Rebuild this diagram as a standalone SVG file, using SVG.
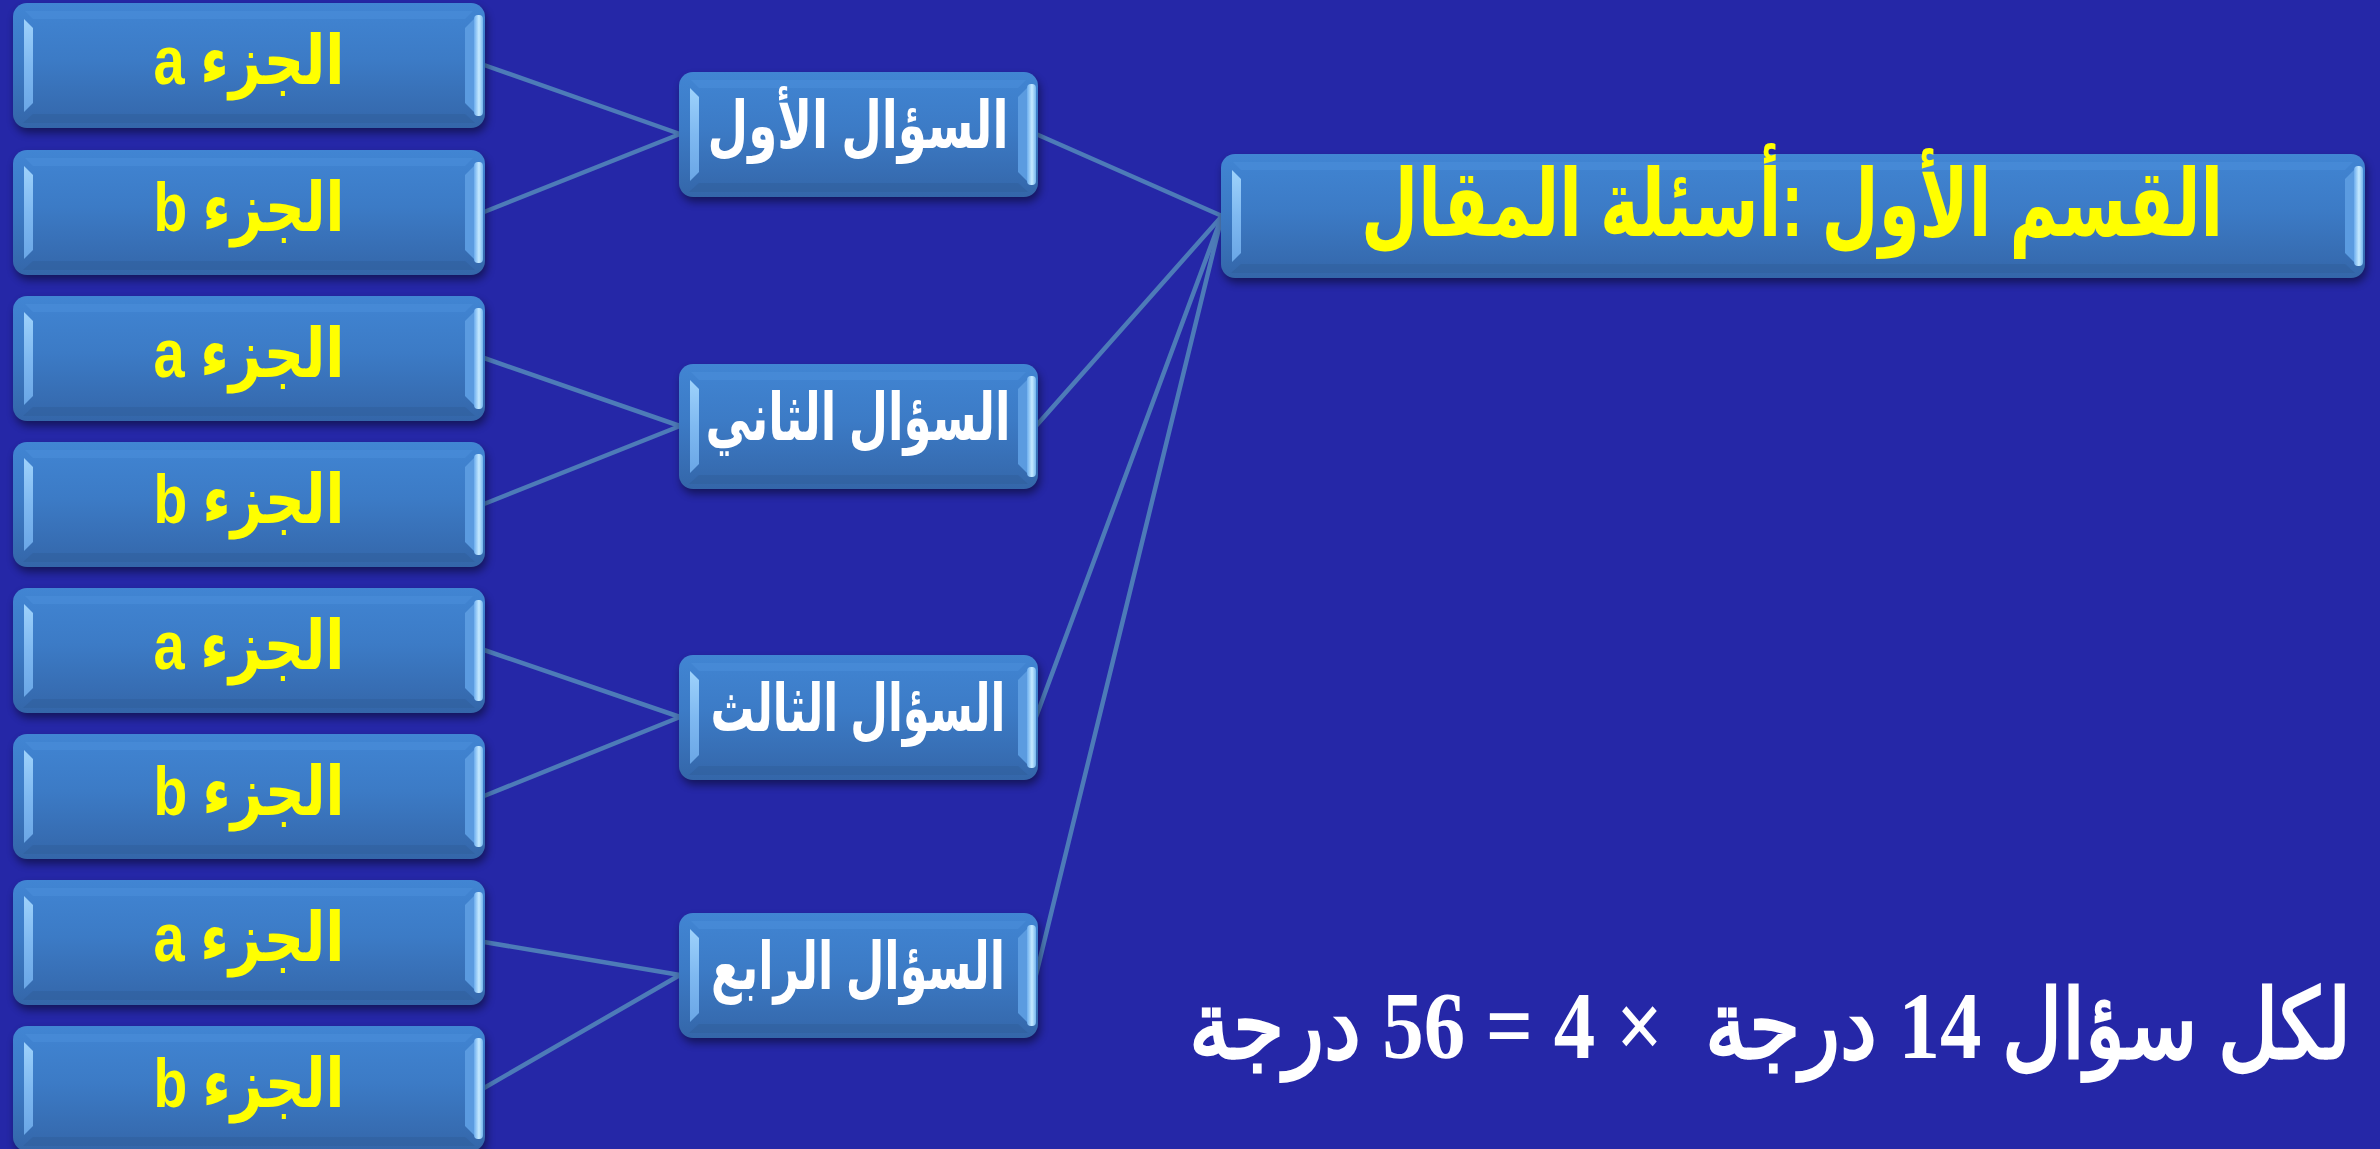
<svg xmlns="http://www.w3.org/2000/svg" xmlns:xlink="http://www.w3.org/1999/xlink" width="2380" height="1149" viewBox="0 0 2380 1149">
<style>
.conn{stroke:#4d7bb8;stroke-width:4.5;fill:none;stroke-linecap:round}
.ty{font-family:"Liberation Sans","DejaVu Sans",sans-serif;font-weight:bold;fill:#ffff00;text-anchor:middle}
.tw{font-family:"Liberation Sans","DejaVu Sans",sans-serif;font-weight:bold;fill:#ffffff;text-anchor:middle}
.tb{font-family:"Liberation Serif","DejaVu Serif",serif;font-weight:bold;fill:#ffffff;text-anchor:middle;white-space:pre}
.face{fill:url(#gFace)}
.shadow{fill:#000;opacity:.45;filter:url(#blur)}
.lb{fill:url(#gLeft)}
.rb{fill:url(#gRight)}
.rbi{fill:#5b9be0}
.bot{fill:#2f5e9c;opacity:.55}
.top{fill:#4b8fdc;opacity:.5}
</style>
<defs>
<filter id="blur" x="-5%" y="-20%" width="110%" height="140%"><feGaussianBlur stdDeviation="4"/></filter>
<linearGradient id="gFace" x1="0" y1="0" x2="0" y2="1">
<stop offset="0" stop-color="#4185d3"/>
<stop offset="0.45" stop-color="#3c7bc6"/>
<stop offset="1" stop-color="#3466a9"/>
</linearGradient>
<linearGradient id="gLeft" x1="0" y1="0" x2="0" y2="1">
<stop offset="0" stop-color="#9ed2fb"/>
<stop offset="0.5" stop-color="#7fb9f1"/>
<stop offset="1" stop-color="#6aa6e6"/>
</linearGradient>
<linearGradient id="gRight" x1="0" y1="0" x2="1" y2="0">
<stop offset="0" stop-color="#6cadee"/>
<stop offset="0.55" stop-color="#c6eaff"/>
<stop offset="1" stop-color="#76b6ee"/>
</linearGradient>
<g id="boxL">
<rect class="shadow" x="2" y="5" width="472" height="125" rx="14"/>
<rect class="face" x="0" y="0" width="472" height="125" rx="14"/>
<polygon class="top" points="12,8 460,8 452,16 20,16"/>
<polygon class="bot" points="20,111 452,111 462,120 10,120"/>
<polygon class="lb" points="11,16 20,25 20,100 11,109"/>
<polygon class="rbi" points="452,25 461,16 461,109 452,100"/>
<rect class="rb" x="461" y="12" width="9" height="101" rx="4"/>
</g>
<g id="boxQ">
<rect class="shadow" x="2" y="5" width="359" height="125" rx="14"/>
<rect class="face" x="0" y="0" width="359" height="125" rx="14"/>
<polygon class="top" points="12,8 347,8 339,16 20,16"/>
<polygon class="bot" points="20,111 339,111 349,120 10,120"/>
<polygon class="lb" points="11,16 20,25 20,100 11,109"/>
<polygon class="rbi" points="339,25 348,16 348,109 339,100"/>
<rect class="rb" x="348" y="12" width="9" height="101" rx="4"/>
</g>
<g id="boxM">
<rect class="shadow" x="2" y="5" width="1144" height="124" rx="14"/>
<rect class="face" x="0" y="0" width="1144" height="124" rx="14"/>
<polygon class="top" points="12,8 1132,8 1124,16 20,16"/>
<polygon class="bot" points="20,110 1124,110 1134,119 10,119"/>
<polygon class="lb" points="11,16 20,25 20,99 11,108"/>
<polygon class="rbi" points="1124,25 1133,16 1133,108 1124,99"/>
<rect class="rb" x="1133" y="12" width="9" height="100" rx="4"/>
</g>
</defs>
<rect x="0" y="0" width="2380" height="1149" fill="#2527a7"/>
<g id="connectors">
<line class="conn" x1="484" y1="65" x2="680" y2="134"/>
<line class="conn" x1="484" y1="212" x2="680" y2="134"/>
<line class="conn" x1="484" y1="358" x2="680" y2="426"/>
<line class="conn" x1="484" y1="504" x2="680" y2="426"/>
<line class="conn" x1="484" y1="650" x2="680" y2="717"/>
<line class="conn" x1="484" y1="796" x2="680" y2="717"/>
<line class="conn" x1="484" y1="942" x2="680" y2="975"/>
<line class="conn" x1="484" y1="1088" x2="680" y2="975"/>
<line class="conn" x1="1036" y1="134" x2="1222" y2="216"/>
<line class="conn" x1="1036" y1="426" x2="1222" y2="216"/>
<line class="conn" x1="1036" y1="717" x2="1222" y2="216"/>
<line class="conn" x1="1036" y1="975" x2="1222" y2="216"/>
</g>
<g id="main">
<use xlink:href="#boxM" x="1221" y="154"/>
<text class="ty" transform="translate(1792,236) scale(1,1.343)" x="0" y="0" font-size="70" direction="rtl" textLength="862" lengthAdjust="spacingAndGlyphs">القسم الأول :أسئلة المقال</text>
</g>
<g id="q1"><use xlink:href="#boxQ" x="679" y="72"/><text class="tw" x="858" y="148" font-size="66" direction="rtl" textLength="301" lengthAdjust="spacingAndGlyphs">السؤال الأول</text></g>
<g id="q2"><use xlink:href="#boxQ" x="679" y="364"/><text class="tw" x="858" y="440" font-size="66" direction="rtl" textLength="305" lengthAdjust="spacingAndGlyphs">السؤال الثاني</text></g>
<g id="q3"><use xlink:href="#boxQ" x="679" y="655"/><text class="tw" x="858" y="731" font-size="66" direction="rtl" textLength="295" lengthAdjust="spacingAndGlyphs">السؤال الثالث</text></g>
<g id="q4"><use xlink:href="#boxQ" x="679" y="913"/><text class="tw" x="858" y="989" font-size="66" direction="rtl" textLength="294" lengthAdjust="spacingAndGlyphs">السؤال الرابع</text></g>
<g id="p1a"><use xlink:href="#boxL" x="13" y="3"/><text class="ty" x="249" y="84" font-size="68" direction="rtl" textLength="191" lengthAdjust="spacingAndGlyphs">الجزء a</text></g>
<g id="p1b"><use xlink:href="#boxL" x="13" y="150"/><text class="ty" x="249" y="231" font-size="68" direction="rtl" textLength="191" lengthAdjust="spacingAndGlyphs">الجزء b</text></g>
<g id="p2a"><use xlink:href="#boxL" x="13" y="296"/><text class="ty" x="249" y="377" font-size="68" direction="rtl" textLength="191" lengthAdjust="spacingAndGlyphs">الجزء a</text></g>
<g id="p2b"><use xlink:href="#boxL" x="13" y="442"/><text class="ty" x="249" y="523" font-size="68" direction="rtl" textLength="191" lengthAdjust="spacingAndGlyphs">الجزء b</text></g>
<g id="p3a"><use xlink:href="#boxL" x="13" y="588"/><text class="ty" x="249" y="669" font-size="68" direction="rtl" textLength="191" lengthAdjust="spacingAndGlyphs">الجزء a</text></g>
<g id="p3b"><use xlink:href="#boxL" x="13" y="734"/><text class="ty" x="249" y="815" font-size="68" direction="rtl" textLength="191" lengthAdjust="spacingAndGlyphs">الجزء b</text></g>
<g id="p4a"><use xlink:href="#boxL" x="13" y="880"/><text class="ty" x="249" y="961" font-size="68" direction="rtl" textLength="191" lengthAdjust="spacingAndGlyphs">الجزء a</text></g>
<g id="p4b"><use xlink:href="#boxL" x="13" y="1026"/><text class="ty" x="249" y="1107" font-size="68" direction="rtl" textLength="191" lengthAdjust="spacingAndGlyphs">الجزء b</text></g>
<g id="total"><text class="tb" transform="translate(1770,1058) scale(1,1.116)" x="0" y="0" font-size="86" direction="rtl" textLength="1163" lengthAdjust="spacingAndGlyphs">لكل سؤال 14 درجة  × 4 = 56 درجة</text></g>
</svg>
